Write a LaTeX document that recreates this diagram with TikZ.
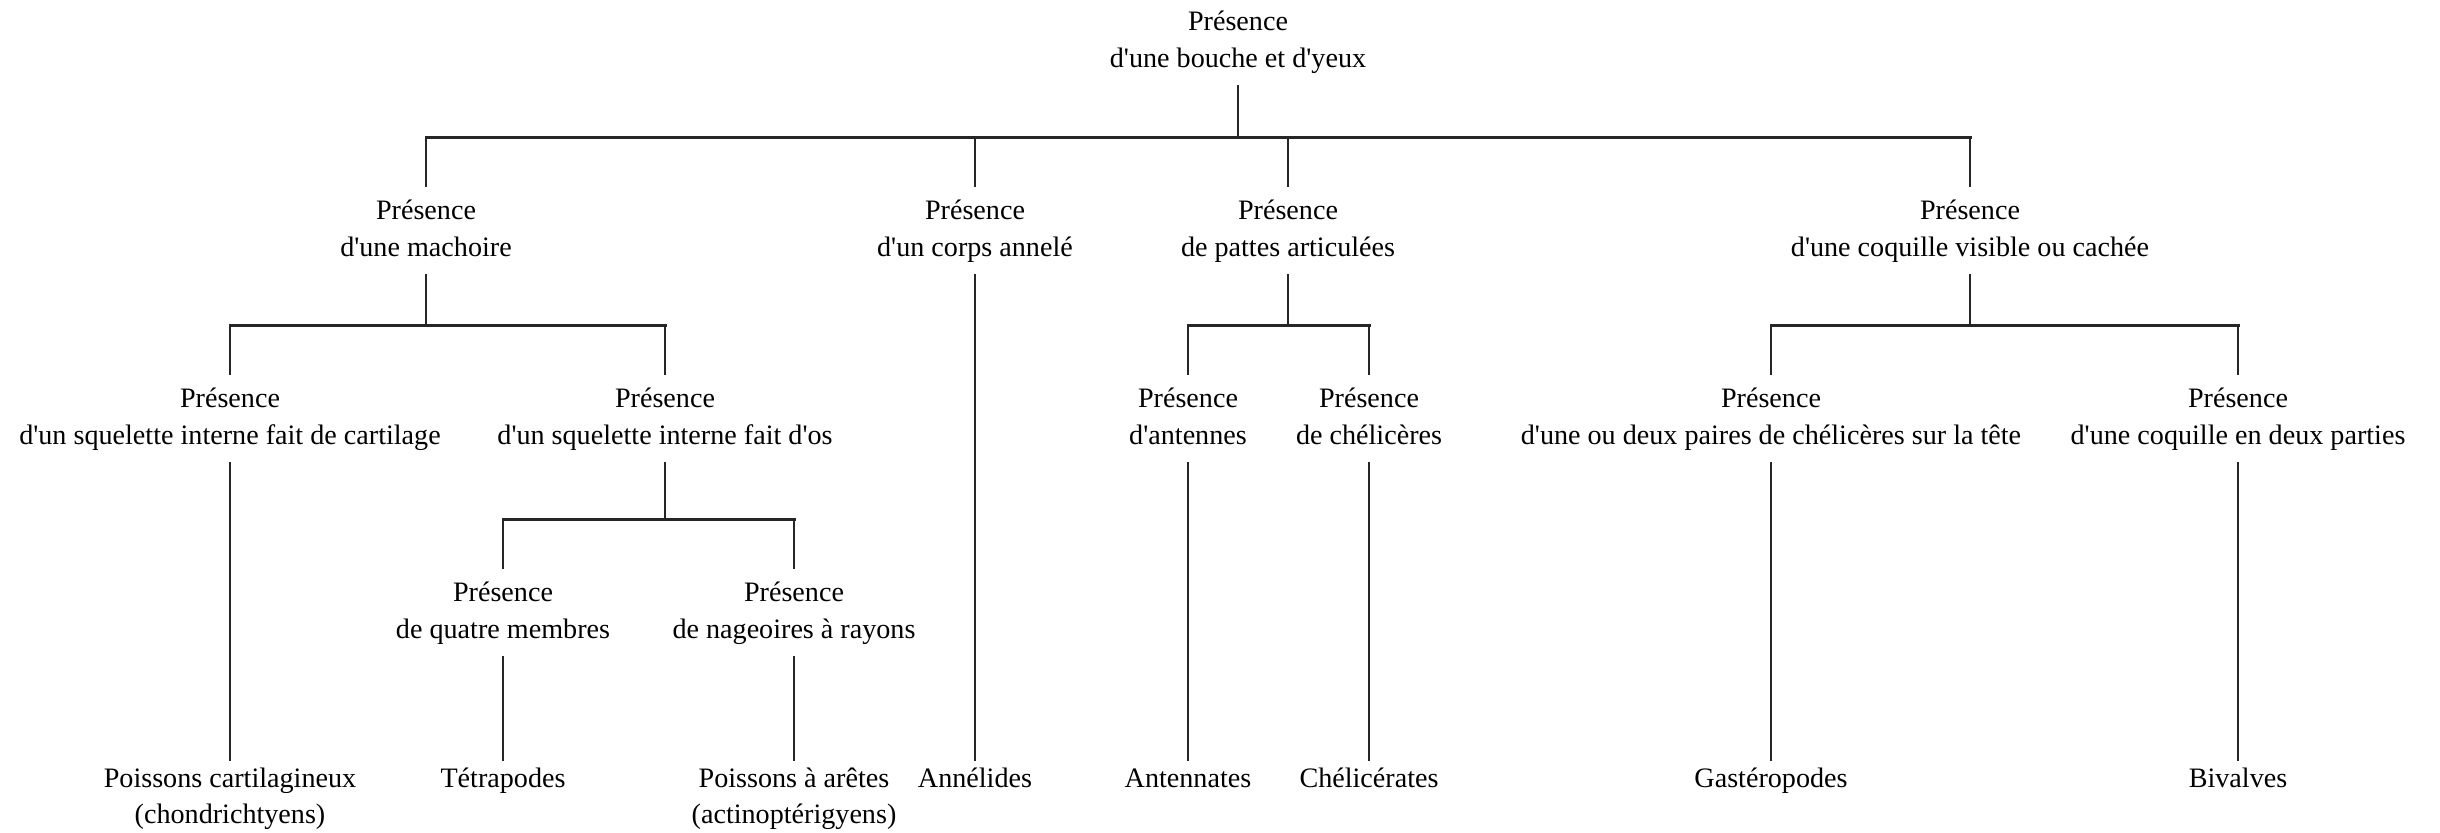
\documentclass[tikz,border=0pt]{standalone}
\usepackage{fontspec}
\setmainfont{Liberation Serif}[Ligatures=TeXOff]
\usepackage{tikz}
\usetikzlibrary{calc}

\begin{document}
\begin{tikzpicture}[%
    x=0.01cm, y=-0.01cm,
    crit/.style={
      align=center,
      anchor=north,
      inner xsep=2pt,
      inner ysep=1.8pt,
      font=\fontsize{8}{10.4}\selectfont,
      execute at end node=\strut
    },
    leaf/.style={crit, inner ysep=0pt},
    stem/.style={color=black!85, line width=0.55pt},
    bar/.style={color=black!85, line width=0.85pt, line cap=rect}]
    \path[use as bounding box, fill=white] (0,0) rectangle (2440,832);

    \node[crit] at (1238,-2) (root) {\strut Présence\\d'une bouche et d'yeux};
    \node[crit] at (426,187) (mach) {\strut Présence\\d'une machoire};
    \node[crit] at (975,187) (ann) {\strut Présence\\d'un corps annelé};
    \node[crit] at (1288,187) (pat) {\strut Présence\\de pattes articulées};
    \node[crit] at (1970,187) (coq) {\strut Présence\\d'une coquille visible ou cachée};
    \node[crit] at (230,375) (cart) {\strut Présence\\d'un squelette interne fait de cartilage};
    \node[crit] at (665,375) (os) {\strut Présence\\d'un squelette interne fait d'os};
    \node[crit] at (1188,375) (ant) {\strut Présence\\d'antennes};
    \node[crit] at (1369,375) (chel) {\strut Présence\\de chélicères};
    \node[crit] at (1771,375) (pair) {\strut Présence\\d'une ou deux paires de chélicères sur la tête};
    \node[crit] at (2238,375) (deux) {\strut Présence\\d'une coquille en deux parties};
    \node[crit] at (503,569) (quat) {\strut Présence\\de quatre membres};
    \node[crit] at (794,569) (nag) {\strut Présence\\de nageoires à rayons};

    \node[leaf] at (230,761) (pcart) {\strut Poissons cartilagineux\\(chondrichtyens)};
    \node[leaf] at (503,761) (tet) {\strut Tétrapodes};
    \node[leaf] at (794,761) (pare) {\strut Poissons à arêtes\\(actinoptérigyens)};
    \node[leaf] at (975,761) (anne) {\strut Annélides};
    \node[leaf] at (1188,761) (antn) {\strut Antennates};
    \node[leaf] at (1369,761) (chcr) {\strut Chélicérates};
    \node[leaf] at (1771,761) (gast) {\strut Gastéropodes};
    \node[leaf] at (2238,761) (biv) {\strut Bivalves};

    \coordinate (j0) at (1238,137);
    \coordinate (j1) at (426,325);
    \coordinate (j2) at (1288,325);
    \coordinate (j3) at (1970,325);
    \coordinate (j4) at (665,519);

    \path[draw,bar]
        (j0 -| mach) -- (j0 -| coq)
        (j1 -| cart) -- (j1 -| os)
        (j2 -| ant) -- (j2 -| chel)
        (j3 -| pair) -- (j3 -| deux)
        (j4 -| quat) -- (j4 -| nag)
        ;
    \path[draw,stem]
        (root) edge (j0)
        (j0 -| mach) edge (mach)
        (j0 -| ann) edge (ann)
        (j0 -| pat) edge (pat)
        (j0 -| coq) edge (coq)
        (mach) edge (j1)
        (pat) edge (j2)
        (coq) edge (j3)
        (j1 -| cart) edge (cart)
        (j1 -| os) edge (os)
        (j2 -| ant) edge (ant)
        (j2 -| chel) edge (chel)
        (j3 -| pair) edge (pair)
        (j3 -| deux) edge (deux)
        (os) edge (j4)
        (j4 -| quat) edge (quat)
        (j4 -| nag) edge (nag)
        (cart) edge (pcart)
        (quat) edge (tet)
        (nag) edge (pare)
        (ann) edge (anne)
        (ant) edge (antn)
        (chel) edge (chcr)
        (pair) edge (gast)
        (deux) edge (biv)
        ;
\end{tikzpicture}
\end{document}
